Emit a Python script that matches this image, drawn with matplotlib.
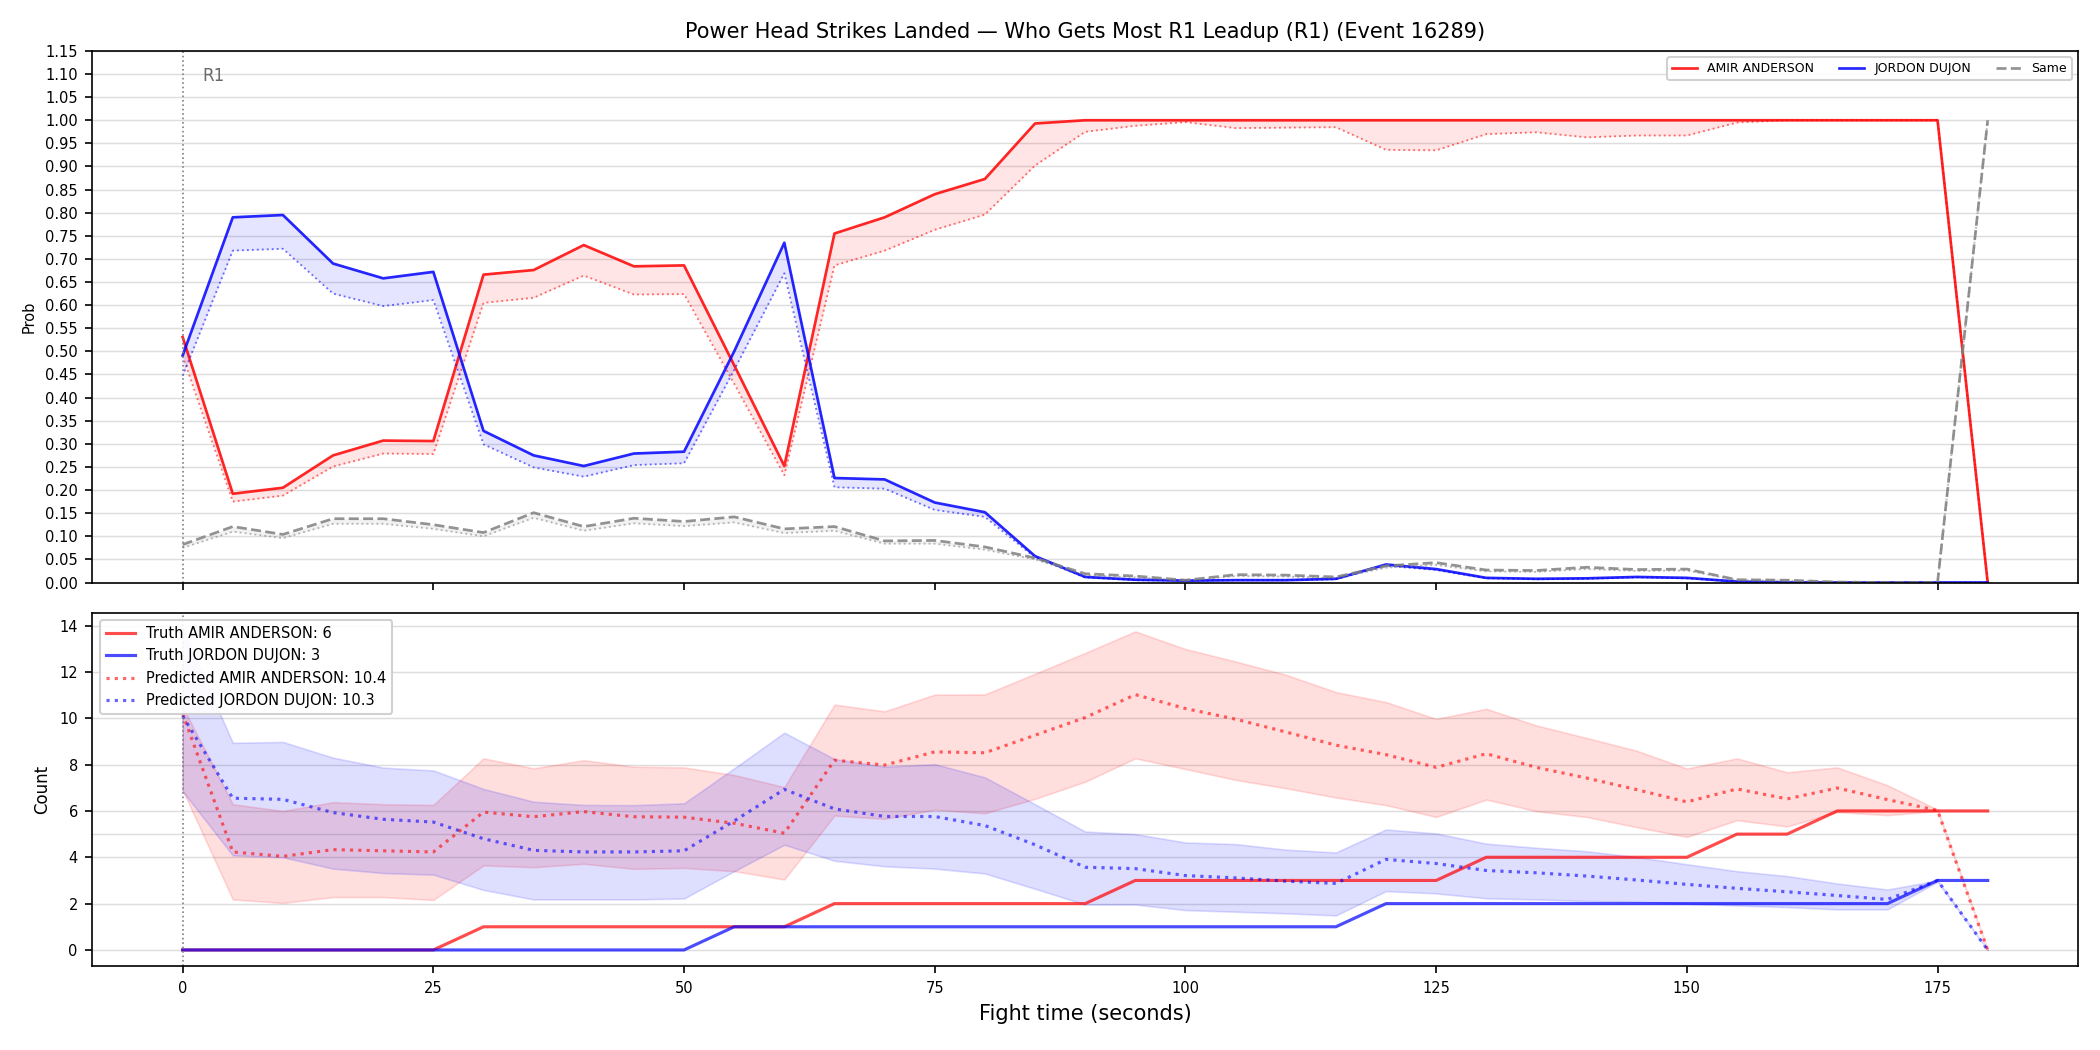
import matplotlib
matplotlib.use("Agg")
import matplotlib.pyplot as plt
import numpy as np

# fight time (seconds)
times = [0, 5, 10, 15, 20, 25, 30, 35, 40, 45, 50, 55, 60, 65, 70, 75, 80, 85, 90,
         95, 100, 105, 110, 115, 120, 125, 130, 135, 140, 145, 150, 155, 160, 165,
         170, 175, 180]

# top panel - probabilities (solid) and raw model values (dotted)
amir_prob = [0.531, 0.192, 0.205, 0.275, 0.307, 0.306, 0.666, 0.676, 0.730, 0.684, 0.686,
             0.470, 0.252, 0.755, 0.790, 0.840, 0.873, 0.993, 1.0, 1.0, 1.0, 1.0, 1.0,
             1.0, 1.0, 1.0, 1.0, 1.0, 1.0, 1.0, 1.0, 1.0, 1.0, 1.0, 1.0, 1.0, 0.0]
amir_raw = [0.490, 0.175, 0.188, 0.251, 0.279, 0.278, 0.605, 0.616, 0.664, 0.623, 0.624,
            0.430, 0.232, 0.686, 0.718, 0.763, 0.796, 0.902, 0.975, 0.988, 0.996, 0.983,
            0.984, 0.985, 0.936, 0.935, 0.970, 0.974, 0.963, 0.967, 0.967, 0.995, 1.0,
            1.0, 1.0, 1.0, 0.0]
jordon_prob = [0.491, 0.790, 0.795, 0.690, 0.658, 0.672, 0.328, 0.275, 0.252, 0.279, 0.283,
               0.500, 0.735, 0.226, 0.223, 0.173, 0.152, 0.057, 0.012, 0.006, 0.004, 0.005,
               0.005, 0.008, 0.039, 0.029, 0.010, 0.008, 0.009, 0.012, 0.010, 0.002, 0.0,
               0.0, 0.0, 0.0, 0.0]
jordon_raw = [0.447, 0.718, 0.722, 0.625, 0.598, 0.611, 0.299, 0.249, 0.229, 0.254, 0.258,
              0.460, 0.669, 0.206, 0.203, 0.157, 0.142, 0.054, 0.011, 0.005, 0.004, 0.005,
              0.005, 0.007, 0.036, 0.027, 0.009, 0.007, 0.008, 0.011, 0.009, 0.002, 0.0,
              0.0, 0.0, 0.0, 0.0]
same_prob = [0.082, 0.121, 0.104, 0.138, 0.138, 0.125, 0.108, 0.151, 0.121, 0.139, 0.132,
             0.142, 0.116, 0.121, 0.090, 0.091, 0.077, 0.053, 0.019, 0.014, 0.005, 0.017,
             0.016, 0.012, 0.036, 0.043, 0.027, 0.026, 0.033, 0.028, 0.029, 0.006, 0.005,
             0.001, 0.0, 0.0, 1.0]
same_raw = [0.075, 0.110, 0.096, 0.127, 0.127, 0.116, 0.100, 0.140, 0.112, 0.128, 0.122,
            0.130, 0.107, 0.112, 0.084, 0.084, 0.071, 0.050, 0.016, 0.011, 0.004, 0.014,
            0.013, 0.010, 0.032, 0.038, 0.024, 0.023, 0.029, 0.025, 0.026, 0.005, 0.004,
            0.001, 0.0, 0.0, 1.0]

# bottom panel - truth counts and predicted counts with bands
truth_amir = [0, 0, 0, 0, 0, 0, 1, 1, 1, 1, 1, 1, 1, 2, 2, 2, 2, 2, 2, 3, 3, 3, 3, 3, 3,
              3, 4, 4, 4, 4, 4, 5, 5, 6, 6, 6, 6]
truth_jordon = [0, 0, 0, 0, 0, 0, 0, 0, 0, 0, 0, 1, 1, 1, 1, 1, 1, 1, 1, 1, 1, 1, 1, 1, 2,
                2, 2, 2, 2, 2, 2, 2, 2, 2, 2, 3, 3]
pred_amir = [10.2, 4.23, 4.04, 4.33, 4.28, 4.23, 5.95, 5.75, 5.97, 5.75, 5.73, 5.47, 5.04,
             8.19, 7.98, 8.55, 8.51, 9.27, 10.03, 11.02, 10.42, 9.96, 9.41, 8.84, 8.43,
             7.88, 8.47, 7.88, 7.42, 6.92, 6.39, 6.95, 6.52, 6.99, 6.49, 6.02, 0.0]
pred_amir_lo = [6.9, 2.18, 2.03, 2.28, 2.28, 2.16, 3.65, 3.57, 3.72, 3.50, 3.54, 3.40, 3.04,
                5.80, 5.66, 6.05, 5.90, 6.52, 7.26, 8.27, 7.81, 7.34, 6.98, 6.58, 6.25,
                5.74, 6.49, 5.99, 5.74, 5.30, 4.88, 5.60, 5.33, 5.95, 5.82, 5.99, 0.0]
pred_amir_hi = [10.5, 6.29, 6.0, 6.38, 6.29, 6.26, 8.27, 7.84, 8.19, 7.91, 7.88, 7.55, 7.03,
                10.59, 10.30, 11.02, 11.03, 11.92, 12.82, 13.75, 12.99, 12.45, 11.88, 11.13,
                10.70, 9.97, 10.41, 9.69, 9.15, 8.60, 7.83, 8.27, 7.67, 7.88, 7.11, 6.06, 0.0]
pred_jordon = [10.1, 6.55, 6.5, 5.93, 5.64, 5.52, 4.80, 4.30, 4.23, 4.23, 4.28, 5.57, 6.93,
               6.09, 5.76, 5.76, 5.37, 4.54, 3.57, 3.51, 3.21, 3.11, 2.97, 2.87, 3.91, 3.73,
               3.43, 3.33, 3.19, 3.02, 2.83, 2.66, 2.51, 2.35, 2.18, 3.0, 0.0]
pred_jordon_lo = [6.85, 4.08, 4.0, 3.51, 3.32, 3.25, 2.59, 2.18, 2.18, 2.18, 2.22, 3.40, 4.54,
                  3.85, 3.61, 3.51, 3.30, 2.64, 1.96, 1.96, 1.72, 1.65, 1.58, 1.49, 2.54,
                  2.44, 2.23, 2.18, 2.11, 2.08, 2.0, 1.92, 1.85, 1.75, 1.75, 2.94, 0.0]
pred_jordon_hi = [13.85, 8.94, 8.98, 8.30, 7.87, 7.75, 6.95, 6.40, 6.26, 6.25, 6.33, 7.84,
                  9.38, 8.24, 7.91, 8.02, 7.45, 6.29, 5.11, 5.0, 4.64, 4.57, 4.33, 4.21,
                  5.20, 5.03, 4.59, 4.41, 4.26, 4.01, 3.70, 3.40, 3.19, 2.87, 2.61, 3.0, 0.0]

red_name = "AMIR ANDERSON"
blue_name = "JORDON DUJON"

fig, (ax1, ax2) = plt.subplots(2, 1, figsize=(14, 7), dpi=150, sharex=True,
                               gridspec_kw={"height_ratios": [0.506, 0.336]})
fig.subplots_adjust(left=0.044, right=0.9895, top=0.9515, bottom=0.08, hspace=0.069)

# --- top: probabilities ---
ax1.plot(times, amir_prob, color="red", lw=1.3, alpha=0.85, label=red_name)
ax1.plot(times, amir_raw, color="red", lw=0.9, ls=":", alpha=0.55)
ax1.fill_between(times, amir_raw, amir_prob, color="red", alpha=0.1, lw=0)
ax1.plot(times, jordon_prob, color="blue", lw=1.3, alpha=0.85, label=blue_name)
ax1.plot(times, jordon_raw, color="blue", lw=0.9, ls=":", alpha=0.55)
ax1.fill_between(times, jordon_raw, jordon_prob, color="blue", alpha=0.1, lw=0)
ax1.plot(times, same_prob, color="gray", lw=1.3, ls="--", alpha=0.85, label="Same")
ax1.plot(times, same_raw, color="gray", lw=0.9, ls=":", alpha=0.55)
ax1.fill_between(times, same_raw, same_prob, color="gray", alpha=0.1, lw=0)

ax1.axvline(0, color="gray", ls=":", lw=0.8)
ax1.text(2, 1.095, "R1", color="dimgray", fontsize=8, va="center")
ax1.set_ylim(0, 1.15)
ax1.set_yticks(np.arange(0, 1.151, 0.05))
ax1.set_yticklabels([f"{v:.2f}" for v in np.arange(0, 1.151, 0.05)])
ax1.tick_params(labelsize=7)
ax1.set_ylabel("Prob", fontsize=7)
ax1.grid(axis="y", color="#dddddd", lw=0.7)
ax1.set_axisbelow(True)
ax1.set_title("Power Head Strikes Landed — Who Gets Most R1 Leadup (R1) (Event 16289)",
              fontsize=10)
ax1.legend(loc="upper right", ncol=3, fontsize=6, framealpha=0.9)

# --- bottom: counts ---
ax2.plot(times, truth_amir, color="red", lw=1.5, alpha=0.7, label=f"Truth {red_name}: 6")
ax2.plot(times, truth_jordon, color="blue", lw=1.5, alpha=0.7, label=f"Truth {blue_name}: 3")
ax2.plot(times, pred_amir, color="red", lw=1.5, ls=":", alpha=0.6,
         label=f"Predicted {red_name}: 10.4")
ax2.fill_between(times, pred_amir_lo, pred_amir_hi, color="red", alpha=0.13, lw=0.8)
ax2.plot(times, pred_jordon, color="blue", lw=1.5, ls=":", alpha=0.6,
         label=f"Predicted {blue_name}: 10.3")
ax2.fill_between(times, pred_jordon_lo, pred_jordon_hi, color="blue", alpha=0.13, lw=0.8)

ax2.axvline(0, color="gray", ls=":", lw=0.8)
ax2.axhline(5, color="#dddddd", lw=0.7, zorder=0)
ax2.grid(axis="y", color="#dddddd", lw=0.7)
ax2.set_axisbelow(True)
ax2.tick_params(labelsize=7)
ax2.set_ylabel("Count", fontsize=8)
ax2.set_xlabel("Fight time (seconds)", fontsize=10)
ax2.legend(loc="upper left", fontsize=7, framealpha=0.9)

fig.savefig("out.png", dpi=150)
